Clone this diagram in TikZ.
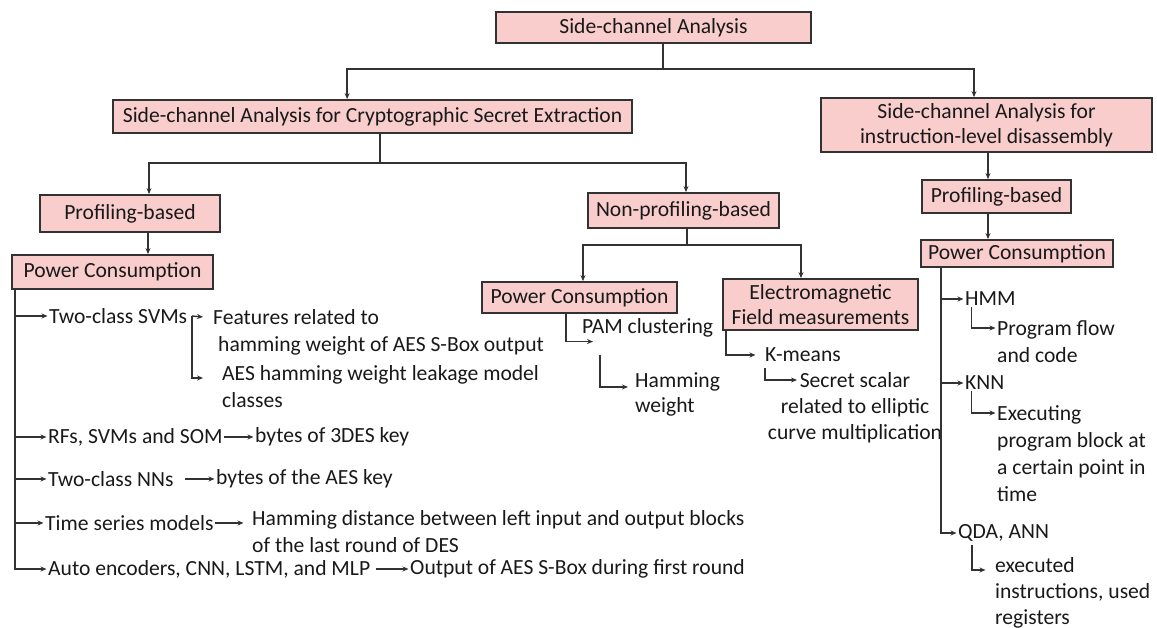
\documentclass[tikz,border=0pt]{standalone}
\usepackage{fontspec}
\setmainfont{Carlito}
\usetikzlibrary{arrows.meta,calc}
\definecolor{boxpink}{RGB}{248,205,204}
\definecolor{linegray}{RGB}{50,50,50}
\tikzset{
  catbox/.style={draw=linegray, line width=1.8pt, fill=boxpink, inner sep=0pt, align=center, font=\fontsize{21.6}{25}\selectfont, text=black!90},
  leaf/.style={inner xsep=1.5pt, inner ysep=0pt, align=left, font=\fontsize{21.6}{27}\selectfont, text=black!90},
  link/.style={draw=linegray, line width=1.4pt},
  arr/.style={link, -{Stealth[length=6pt,width=5pt]}},
}
\begin{document}
\begin{tikzpicture}[x=1pt, y=-1pt]
  \useasboundingbox (0,0) rectangle (1157,628);
  % category boxes
  \node[catbox, minimum width=315, minimum height=31] (top) at (653.5,27.5) {Side-channel Analysis};
  \node[catbox, minimum width=519, minimum height=33] (crypto) at (372.5,116.5) {Side-channel Analysis for Cryptographic Secret Extraction};
  \node[catbox, minimum width=331, minimum height=54] (disasm) at (986.5,125) {Side-channel Analysis for\\instruction-level disassembly};
  \node[catbox, minimum width=180, minimum height=37] (prof1) at (130,213.5) {Profiling-based};
  \node[catbox, minimum width=191, minimum height=35] (nonprof) at (683.5,210.5) {Non-profiling-based};
  \node[catbox, minimum width=149, minimum height=33] (prof2) at (996.5,196.5) {Profiling-based};
  \node[catbox, minimum width=201, minimum height=34] (pc1) at (112.5,272) {Power Consumption};
  \node[catbox, minimum width=195, minimum height=31] (pc2) at (579.5,297.5) {Power Consumption};
  \node[catbox, minimum width=195, minimum height=51] (em) at (820.5,304.5) {Electromagnetic\\Field measurements};
  \node[catbox, minimum width=192, minimum height=27] (pc3) at (1017,253.5) {Power Consumption};

  % tree links
  \coordinate (split0) at (663,69);
  \draw[link] (top.south -| split0) -- (split0);
  \draw[arr] (split0) -| ($(crypto.north west)+(235,0)$);
  \draw[arr] (split0) -| ($(disasm.north)+(-12.5,0)$);
  \coordinate (split1) at (380,163);
  \draw[link] (crypto.south -| split1) -- (split1);
  \draw[arr] (split1) -| ($(prof1.north)+(19,0)$);
  \draw[arr] (split1) -| ($(nonprof.north)+(2.5,0)$);
  \draw[arr] ($(prof1.south)+(18,0)$) -- ($(pc1.north)+(35.5,0)$);
  \draw[arr] ($(disasm.south)+(1.5,0)$) -- ($(prof2.north)+(-8.5,0)$);
  \draw[arr] ($(prof2.south)+(-8.5,0)$) -- ($(pc3.north)+(-29,0)$);
  \coordinate (split2) at (687,245);
  \draw[link] (nonprof.south -| split2) -- (split2);
  \draw[arr] (split2) -| ($(pc2.north)+(3.5,0)$);
  \draw[arr] (split2) -| ($(em.north)+(-19.5,0)$);

  % profiling-based, power consumption
  \node[leaf, anchor=west] (svm) at (47.5,316) {Two-class SVMs};
  \node[leaf, anchor=north west] (feat) at (211.5,309) {Features related to\\\hspace{5pt}hamming weight of AES S-Box output};
  \node[leaf, anchor=north west] (leak) at (220.5,365) {AES hamming weight leakage model\\classes};
  \node[leaf, anchor=west] (rfs) at (46.5,437) {RFs, SVMs and SOM};
  \node[leaf, anchor=west] (k3des) at (253.5,437) {bytes of 3DES key};
  \node[leaf, anchor=west] (nns) at (46.5,479) {Two-class NNs};
  \node[leaf, anchor=west] (kaes) at (214.5,479) {bytes of the AES key};
  \node[leaf, anchor=west] (tsm) at (43.5,523) {Time series models};
  \node[leaf, anchor=north west] (hd) at (250.5,510) {Hamming distance between left input and output blocks\\of the last round of DES};
  \node[leaf, anchor=west] (auto) at (46.5,569) {Auto encoders, CNN, LSTM, and MLP};
  \node[leaf, anchor=west] (sbox) at (408.5,569) {Output of AES S-Box during first round};

  \coordinate (trunk1) at (15,0);
  \draw[arr] (pc1.south -| trunk1) |- (auto.west);
  \foreach \n in {svm,rfs,nns,tsm}
    \draw[arr] (\n.west -| trunk1) -- (\n.west);
  \coordinate (brk) at ($(svm.east)+(3,0)$);
  \draw[arr] (brk) -- ($(feat.north west)+(-8.5,8)$);
  \draw[arr] (brk) |- ($(leak.north west)+(-17.5,13)$);
  \draw[arr] (rfs.east) -- (k3des.west);
  \draw[arr] ($(nns.east)+(10,0)$) -- (kaes.west);
  \draw[arr] (tsm.east) -- ($(hd.north west)+(-7,13)$);
  \draw[arr] ($(auto.east)+(4,0)$) -- (sbox.west);

  % non-profiling-based
  \node[leaf, anchor=west] (pam) at (580.5,328) {PAM clustering};
  \node[leaf, anchor=north west, font=\fontsize{21.6}{25}\selectfont] (hw) at (633.5,372) {Hamming\\weight};
  \node[leaf, anchor=west] (km) at (763.5,355) {K-means};
  \node[leaf, anchor=north, align=center, font=\fontsize{21.6}{26}\selectfont] (ss) at (855,372) {Secret scalar\\related to elliptic\\curve multiplication};
  \draw[arr] ($(pc2.south)+(-13.5,0)$) |- ($(pam.south west)+(12.5,4)$);
  \draw[arr] ($(pam.south west)+(19.5,17)$) |- ($(hw.north west)+(-5.5,15)$);
  \draw[arr] ($(em.south west)+(4,0)$) |- ($(km.west)+(-8,0)$);
  \draw[arr] ($(km.south west)+(1.5,6)$) |- ($(ss.north)+(-58,8)$);

  % instruction-level disassembly
  \node[leaf, anchor=west] (hmm) at (963.5,299) {HMM};
  \node[leaf, anchor=north west] (pf) at (995.5,320) {Program flow\\and code};
  \node[leaf, anchor=west] (knn) at (963.5,383) {KNN};
  \node[leaf, anchor=north west] (exe) at (995.5,405) {Executing\\program block at\\a certain point in\\time};
  \node[leaf, anchor=west] (qda) at (956.5,533) {QDA, ANN};
  \node[leaf, anchor=north west, font=\fontsize{21.6}{26}\selectfont] (ei) at (993.5,557) {executed\\instructions, used\\registers};
  \coordinate (trunk3) at (941,0);
  \draw[arr] (pc3.south -| trunk3) |- (qda.west);
  \foreach \n in {hmm,knn}
    \draw[arr] (\n.west -| trunk3) -- (\n.west);
  \draw[arr] ($(hmm.south west)+(8,1)$) |- ($(pf.north west)+(0,8)$);
  \draw[arr] ($(knn.south west)+(8,1)$) |- ($(exe.north west)+(0,8)$);
  \draw[arr] ($(qda.south west)+(15.5,3)$) |- ($(ei.north west)+(-8,13)$);
\end{tikzpicture}
\end{document}
